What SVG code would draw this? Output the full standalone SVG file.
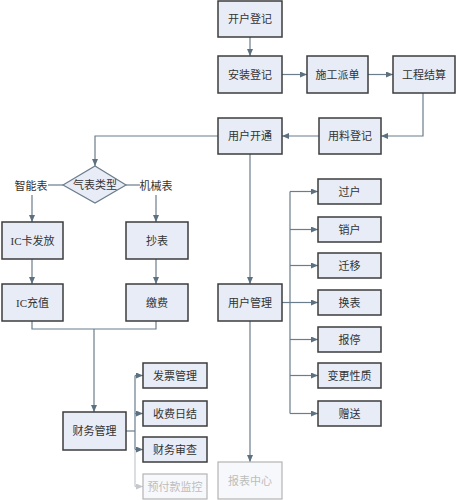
<svg xmlns="http://www.w3.org/2000/svg" width="456" height="500" viewBox="0 0 456 500">
<style>
.box{fill:#e8ecf6;stroke:#3c3c3c;stroke-width:1.5}
.fbox{fill:#f7f8fb;stroke:#b4b4b4;stroke-width:1.2}
.t{font-family:"Liberation Serif","Noto Sans CJK SC",serif;font-size:11px;fill:#333;text-anchor:middle;dominant-baseline:central}
.ft{fill:#bdbdbd}
.c{fill:none;stroke:#6a7d8c;stroke-width:1.2}
.fc{fill:none;stroke:#c4c8cc;stroke-width:1.2}
</style>
<defs>
<marker id="a" markerUnits="userSpaceOnUse" markerWidth="7" markerHeight="6" refX="7" refY="3" orient="auto">
<path d="M0,0 L7,3 L0,6 z" fill="#5c7080"/>
</marker>
<marker id="fa" markerUnits="userSpaceOnUse" markerWidth="7" markerHeight="6" refX="7" refY="3" orient="auto">
<path d="M0,0 L7,3 L0,6 z" fill="#c4c8cc"/>
</marker>
</defs>
<rect width="456" height="500" fill="#ffffff"/>
<g id="connectors">
<path class="c" d="M250,37 V56" marker-end="url(#a)"/>
<path class="c" d="M282,74.5 H307" marker-end="url(#a)"/>
<path class="c" d="M368,74.5 H393" marker-end="url(#a)"/>
<path class="c" d="M423,93 V136 H381" marker-end="url(#a)"/>
<path class="c" d="M319,136 H282" marker-end="url(#a)"/>
<path class="c" d="M218,136 H95 V166" marker-end="url(#a)"/>
<path class="c" d="M63,185 H48"/>
<path class="c" d="M126,185 H140"/>
<path class="c" d="M32,195 V222" marker-end="url(#a)"/>
<path class="c" d="M156,195 V222" marker-end="url(#a)"/>
<path class="c" d="M32,259 V284" marker-end="url(#a)"/>
<path class="c" d="M156,259 V284" marker-end="url(#a)"/>
<path class="c" d="M32,321 V329 H156 V321"/>
<path class="c" d="M94,329 V412" marker-end="url(#a)"/>
<path class="c" d="M126,431 H135"/>
<path class="c" d="M135,375.5 V449.5"/>
<path class="fc" d="M135,449.5 V486.5"/>
<path class="c" d="M135,375.5 H143" marker-end="url(#a)"/>
<path class="c" d="M135,413.5 H143" marker-end="url(#a)"/>
<path class="c" d="M135,449.5 H143" marker-end="url(#a)"/>
<path class="fc" d="M135,486.5 H143" marker-end="url(#fa)"/>
<path class="c" d="M250,154 V284" marker-end="url(#a)"/>
<path class="c" d="M250,321 V462" marker-end="url(#a)"/>
<path class="c" d="M282,302.5 H290"/>
<path class="c" d="M290,191.5 V413.5"/>
<path class="c" d="M290,191.5 H318" marker-end="url(#a)"/>
<path class="c" d="M290,229.5 H318" marker-end="url(#a)"/>
<path class="c" d="M290,265.5 H318" marker-end="url(#a)"/>
<path class="c" d="M290,302.5 H318" marker-end="url(#a)"/>
<path class="c" d="M290,339.5 H318" marker-end="url(#a)"/>
<path class="c" d="M290,375.5 H318" marker-end="url(#a)"/>
<path class="c" d="M290,413.5 H318" marker-end="url(#a)"/>
</g>
<g id="n-kaihu"><rect class="box" x="218" y="1" width="64" height="36"/><text class="t" x="250" y="19">开户登记</text></g>
<g id="n-anzhuang"><rect class="box" x="218" y="56" width="64" height="37"/><text class="t" x="250" y="74.5">安装登记</text></g>
<g id="n-shigong"><rect class="box" x="307" y="56" width="61" height="37"/><text class="t" x="337.5" y="74.5">施工派单</text></g>
<g id="n-gongcheng"><rect class="box" x="393" y="56" width="62" height="37"/><text class="t" x="424" y="74.5">工程结算</text></g>
<g id="n-yongliao"><rect class="box" x="319" y="118" width="62" height="36"/><text class="t" x="350" y="136">用料登记</text></g>
<g id="n-kaitong"><rect class="box" x="218" y="118" width="64" height="36"/><text class="t" x="250" y="136">用户开通</text></g>
<g id="n-qibiao"><polygon class="box" points="63,185 95,166 126,185 95,203" style="stroke:#6a7d8c;stroke-width:1.2"/><text class="t" x="95" y="184.5">气表类型</text></g>
<g id="l-zhineng"><text class="t" x="31" y="186">智能表</text></g>
<g id="l-jixie"><text class="t" x="156" y="186">机械表</text></g>
<g id="n-icfafang"><rect class="box" x="2" y="222" width="61" height="37"/><text class="t" x="32.5" y="240.5">IC卡发放</text></g>
<g id="n-icchongzhi"><rect class="box" x="2" y="284" width="61" height="37"/><text class="t" x="32.5" y="302.5">IC充值</text></g>
<g id="n-chaobiao"><rect class="box" x="126" y="222" width="62" height="37"/><text class="t" x="157" y="240.5">抄表</text></g>
<g id="n-jiaofei"><rect class="box" x="126" y="284" width="62" height="37"/><text class="t" x="157" y="302.5">缴费</text></g>
<g id="n-caiwu"><rect class="box" x="63" y="412" width="63" height="38"/><text class="t" x="94.5" y="431">财务管理</text></g>
<g id="n-fapiao"><rect class="box" x="143" y="363" width="64" height="25"/><text class="t" x="175" y="375.5">发票管理</text></g>
<g id="n-rijie"><rect class="box" x="143" y="401" width="64" height="25"/><text class="t" x="175" y="413.5">收费日结</text></g>
<g id="n-shencha"><rect class="box" x="143" y="437" width="64" height="25"/><text class="t" x="175" y="449.5">财务审查</text></g>
<g id="n-yufukuan"><rect class="fbox" x="143" y="474" width="64" height="25"/><text class="t ft" x="175" y="486.5">预付款监控</text></g>
<g id="n-yonghuguanli"><rect class="box" x="218" y="284" width="64" height="37"/><text class="t" x="250" y="302.5">用户管理</text></g>
<g id="n-baobiao"><rect class="fbox" x="218" y="462" width="64" height="37"/><text class="t ft" x="250" y="480.5">报表中心</text></g>
<g id="n-guohu"><rect class="box" x="318" y="179" width="63" height="25"/><text class="t" x="349.5" y="191.5">过户</text></g>
<g id="n-xiaohu"><rect class="box" x="318" y="217" width="63" height="25"/><text class="t" x="349.5" y="229.5">销户</text></g>
<g id="n-qianyi"><rect class="box" x="318" y="253" width="63" height="25"/><text class="t" x="349.5" y="265.5">迁移</text></g>
<g id="n-huanbiao"><rect class="box" x="318" y="290" width="63" height="25"/><text class="t" x="349.5" y="302.5">换表</text></g>
<g id="n-baoting"><rect class="box" x="318" y="327" width="63" height="25"/><text class="t" x="349.5" y="339.5">报停</text></g>
<g id="n-biangeng"><rect class="box" x="318" y="363" width="63" height="25"/><text class="t" x="349.5" y="375.5">变更性质</text></g>
<g id="n-zengsong"><rect class="box" x="318" y="401" width="63" height="25"/><text class="t" x="349.5" y="413.5">赠送</text></g>
</svg>
